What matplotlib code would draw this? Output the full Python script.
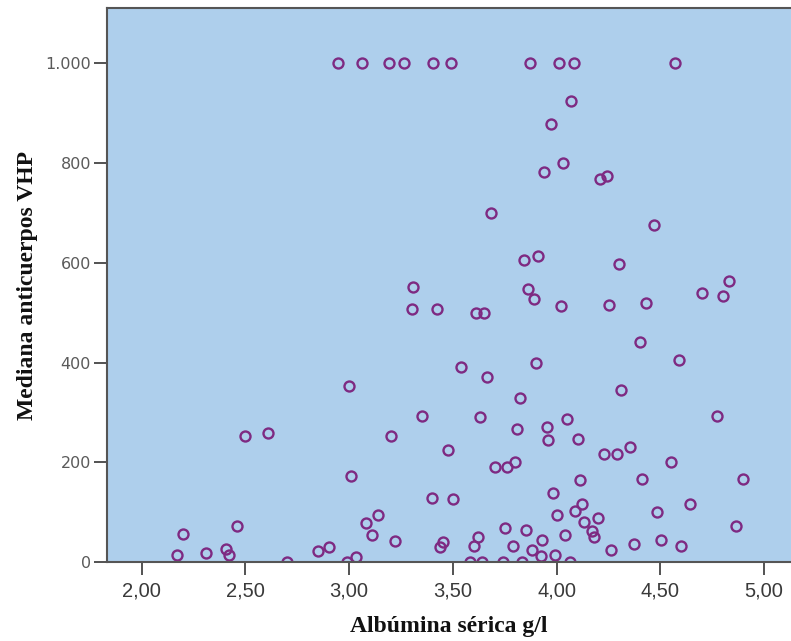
import matplotlib
matplotlib.use("Agg")
import matplotlib.pyplot as plt
from matplotlib.ticker import FuncFormatter

# albumina serica (g/l) vs mediana anticuerpos VHP
albumina = [
    2.947, 3.060, 3.190, 3.266, 3.405, 3.491, 3.871, 4.011, 4.082, 4.572,
    4.070, 3.971, 4.032, 3.940, 4.210, 4.244, 3.682, 4.472, 3.841, 3.910,
    4.302, 4.832, 4.702, 4.801, 3.862, 3.892, 4.021, 4.252, 4.432, 3.309,
    3.301, 3.422, 3.610, 3.651,
    4.401, 4.591, 3.540, 3.663, 3.900, 4.311, 3.822, 3.000,
    3.632, 4.773, 3.349, 3.810, 3.952, 4.051, 3.960, 4.101, 3.475, 4.231,
    4.291, 4.352, 3.701, 3.760, 3.802, 4.552,
    2.498, 2.610, 3.200, 3.010, 4.111, 4.413, 4.901,
    3.400, 3.500, 3.982, 4.123, 4.090, 4.000, 4.202, 4.132, 4.482, 4.641,
    4.863, 4.172, 4.181, 3.751, 3.852, 4.040, 3.931, 3.622, 3.600, 3.791,
    3.882, 3.924, 3.991, 4.262, 4.373, 4.501, 4.602, 3.451, 3.438,
    3.140, 3.080, 3.111, 3.219, 2.458, 2.200, 2.169, 2.308, 2.406, 2.419,
    2.850, 2.901, 3.031,
    2.702, 2.988, 3.582, 3.641, 3.743, 3.831, 4.063,
]
anticuerpos = [
    1000, 1000, 1000, 1000, 1000, 1000, 1000, 1000, 1000, 1000,
    924, 878, 801, 783, 769, 774, 699, 675, 605, 614,
    598, 563, 540, 533, 547, 528, 513, 515, 519, 552,
    507, 507, 500, 500,
    442, 405, 391, 371, 400, 345, 328, 352,
    290, 293, 293, 266, 270, 287, 245, 246, 224, 217,
    217, 231, 190, 190, 201, 200,
    252, 259, 253, 173, 164, 166, 167,
    128, 126, 139, 116, 102, 95, 88, 81, 101, 116,
    72, 63, 51, 68, 64, 54, 45, 51, 33, 33,
    25, 13, 15, 24, 37, 45, 32, 41, 31,
    94, 79, 55, 42, 73, 56, 14, 19, 27, 15,
    23, 31, 11,
    0, 0, 0, 0, 0, 0, 0,
]
x_ticks = [2.0, 2.5, 3.0, 3.5, 4.0, 4.5, 5.0]
y_ticks = [0, 200, 400, 600, 800, 1000]

fig = plt.figure(figsize=(7.91, 6.41), dpi=100)
ax = fig.add_axes([107 / 791, 79 / 641, 684 / 791, 554 / 641])
ax.set_facecolor("#AECFEC")

ax.plot(albumina, anticuerpos, linestyle="none", marker="o", markersize=7.2,
        markerfacecolor="none", markeredgecolor="#7E2A82", markeredgewidth=1.7)

ax.set_xlim(1.833, 5.13)
ax.set_ylim(0, 1111)
ax.set_xticks(x_ticks)
ax.set_yticks(y_ticks)
ax.xaxis.set_major_formatter(FuncFormatter(lambda v, p: ("%.2f" % v).replace(".", ",")))
ax.yaxis.set_major_formatter(FuncFormatter(lambda v, p: ("{:,.0f}".format(v)).replace(",", ".")))

ax.tick_params(axis="x", length=9, width=1.3, color="#444444", pad=5,
               labelsize=14.5, labelcolor="#3a3a3a")
ax.tick_params(axis="y", length=9.5, width=1.3, color="#444444", pad=2,
               labelsize=11.5, labelcolor="#5a5a5a")
for lab in ax.get_xticklabels():
    lab.set_family("Liberation Sans")
for lab in ax.get_yticklabels():
    lab.set_family("DejaVu Sans")

for side in ["left", "bottom", "top"]:
    ax.spines[side].set_color("#555555")
    ax.spines[side].set_linewidth(1.5)
ax.spines["right"].set_visible(False)

ax.set_xlabel("Albúmina sérica g/l", family="Liberation Serif", fontweight="bold",
              fontsize=17, color="#111111", labelpad=11)
ax.set_ylabel("Mediana anticuerpos VHP", family="Liberation Serif", fontweight="bold",
              fontsize=17, color="#111111", labelpad=5)

plt.savefig("out.png", dpi=100)
plt.close()
